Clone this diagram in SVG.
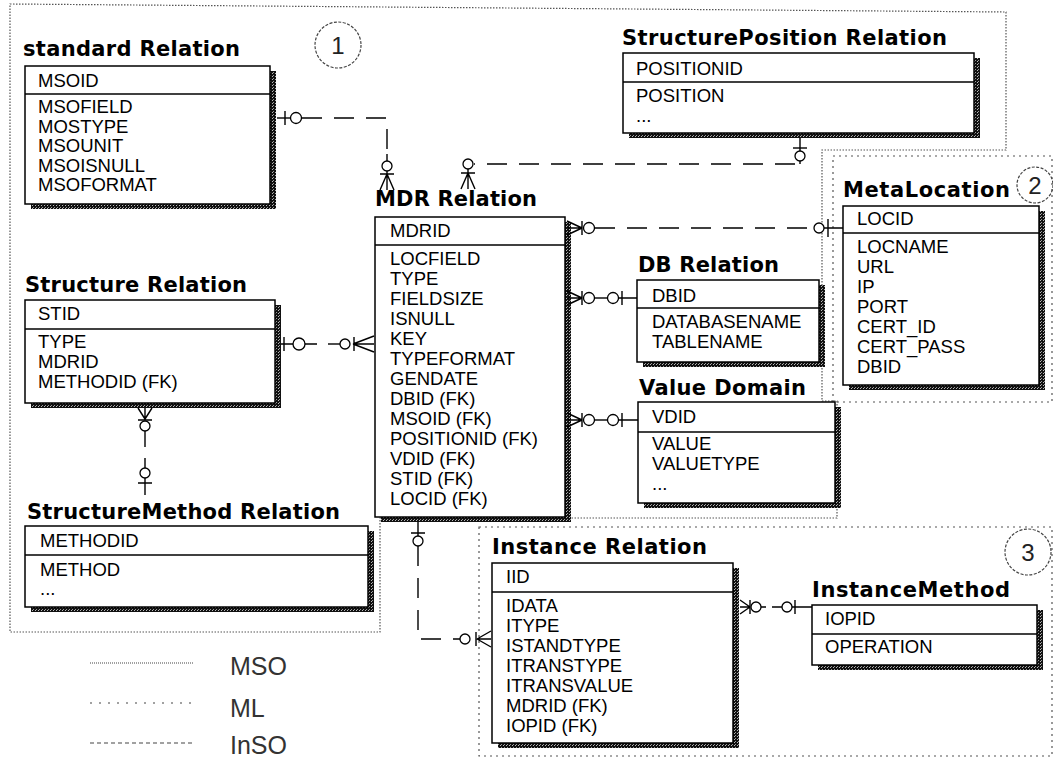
<svg xmlns="http://www.w3.org/2000/svg" width="1053" height="761" viewBox="0 0 1053 761">
<style>
.t{font-family:"DejaVu Sans",sans-serif;font-weight:bold;font-size:21px;fill:#000}
.a{font-family:"Liberation Sans",Arial,sans-serif;font-size:18.5px;fill:#000}
.box{fill:#fff;stroke:#000;stroke-width:1.5}
.sh{fill:url(#dith)}
.sep{stroke:#000;stroke-width:1.5}
.rel{fill:none;stroke:#000;stroke-width:1.4}
.dash{stroke-dasharray:20 12}
.sym{fill:#fff;stroke:#000;stroke-width:1.3}
.reg{fill:none;stroke:#555;stroke-width:1.2;stroke-dasharray:1.5 1.5}
.reg2{fill:none;stroke:#555;stroke-width:1.2;stroke-dasharray:2 4}
.num{fill:none;stroke:#444;stroke-width:1.2;stroke-dasharray:3 1.5}
.nt{font-family:"Liberation Sans",Arial,sans-serif;font-size:24px;fill:#222;text-anchor:middle}
.lg{font-family:"Liberation Sans",Arial,sans-serif;font-size:25px;fill:#333}
</style>
<defs>
<pattern id="dith" width="3" height="3" patternUnits="userSpaceOnUse"><rect width="3" height="3" fill="#111"/><rect x="0" y="0" width="1" height="1" fill="#999"/><rect x="2" y="1" width="1" height="1" fill="#bbb"/></pattern>
</defs>
<rect width="1053" height="761" fill="#fff"/>

<g id="regions">
<polygon class="reg" points="10,4 1006,12 1006,150 822,150 822,401 837,401 837,518 380,518 380,632 10,632"/>
<rect class="reg2" x="833" y="156" width="219" height="246"/>
<rect class="reg2" x="479" y="527" width="573" height="229"/>
<circle class="num" cx="338" cy="45" r="23"/><text class="nt" x="338" y="54">1</text>
<circle class="num" cx="1035" cy="185" r="18"/><text class="nt" x="1035" y="194">2</text>
<circle class="num" cx="1028" cy="552" r="23"/><text class="nt" x="1028" y="561">3</text>
</g>

<g id="standard-relation">
<text class="t" x="23" y="56" textLength="217">standard Relation</text>
<rect class="sh" x="31" y="71" width="245" height="138"/>
<rect class="box" x="25" y="66" width="245" height="138"/>
<line class="sep" x1="25" y1="94" x2="270" y2="94"/>
<text class="a" x="38" y="87">MSOID</text>
<text class="a" x="38" y="113">MSOFIELD</text>
<text class="a" x="38" y="132.5">MOSTYPE</text>
<text class="a" x="38" y="152">MSOUNIT</text>
<text class="a" x="38" y="171.5">MSOISNULL</text>
<text class="a" x="38" y="191">MSOFORMAT</text>
</g>

<g id="structureposition-relation">
<text class="t" x="622" y="45" textLength="325">StructurePosition Relation</text>
<rect class="sh" x="629" y="58" width="351" height="80"/>
<rect class="box" x="623" y="53" width="351" height="80"/>
<line class="sep" x1="623" y1="82" x2="974" y2="82"/>
<text class="a" x="636" y="75">POSITIONID</text>
<text class="a" x="636" y="102">POSITION</text>
<text class="a" x="636" y="122">...</text>
</g>

<g id="mdr-relation">
<text class="t" x="375" y="206" textLength="162">MDR Relation</text>
<rect class="sh" x="381" y="222" width="190" height="300"/>
<rect class="box" x="375" y="217" width="190" height="300"/>
<line class="sep" x1="375" y1="245" x2="565" y2="245"/>
<text class="a" x="390" y="237">MDRID</text>
<text class="a" x="390" y="265">LOCFIELD</text>
<text class="a" x="390" y="285">TYPE</text>
<text class="a" x="390" y="305">FIELDSIZE</text>
<text class="a" x="390" y="325">ISNULL</text>
<text class="a" x="390" y="345">KEY</text>
<text class="a" x="390" y="365">TYPEFORMAT</text>
<text class="a" x="390" y="385">GENDATE</text>
<text class="a" x="390" y="405">DBID (FK)</text>
<text class="a" x="390" y="424.5">MSOID (FK)</text>
<text class="a" x="390" y="444.5">POSITIONID (FK)</text>
<text class="a" x="390" y="464.5">VDID (FK)</text>
<text class="a" x="390" y="484.5">STID (FK)</text>
<text class="a" x="390" y="504.5">LOCID (FK)</text>
</g>

<g id="db-relation">
<text class="t" x="638" y="272" textLength="141">DB Relation</text>
<rect class="sh" x="643" y="285" width="182" height="82"/>
<rect class="box" x="637" y="280" width="182" height="82"/>
<line class="sep" x1="637" y1="308" x2="819" y2="308"/>
<text class="a" x="652" y="302">DBID</text>
<text class="a" x="652" y="328">DATABASENAME</text>
<text class="a" x="652" y="348">TABLENAME</text>
</g>

<g id="value-domain">
<text class="t" x="639" y="395" textLength="167">Value Domain</text>
<rect class="sh" x="644" y="407" width="197" height="101"/>
<rect class="box" x="638" y="402" width="197" height="101"/>
<line class="sep" x1="638" y1="432" x2="835" y2="432"/>
<text class="a" x="652" y="423">VDID</text>
<text class="a" x="652" y="450">VALUE</text>
<text class="a" x="652" y="470">VALUETYPE</text>
<text class="a" x="652" y="490">...</text>
</g>

<g id="metalocation">
<text class="t" x="843" y="197" textLength="167">MetaLocation</text>
<rect class="sh" x="849" y="211" width="196" height="179"/>
<rect class="box" x="843" y="206" width="196" height="179"/>
<line class="sep" x1="843" y1="233" x2="1039" y2="233"/>
<text class="a" x="857" y="225">LOCID</text>
<text class="a" x="857" y="253">LOCNAME</text>
<text class="a" x="857" y="273">URL</text>
<text class="a" x="857" y="293">IP</text>
<text class="a" x="857" y="313">PORT</text>
<text class="a" x="857" y="333">CERT_ID</text>
<text class="a" x="857" y="353">CERT_PASS</text>
<text class="a" x="857" y="373">DBID</text>
</g>

<g id="structure-relation">
<text class="t" x="25" y="292" textLength="222">Structure Relation</text>
<rect class="sh" x="31" y="305" width="250" height="103"/>
<rect class="box" x="25" y="300" width="250" height="103"/>
<line class="sep" x1="25" y1="329" x2="275" y2="329"/>
<text class="a" x="38" y="320">STID</text>
<text class="a" x="38" y="348">TYPE</text>
<text class="a" x="38" y="368">MDRID</text>
<text class="a" x="38" y="388">METHODID (FK)</text>
</g>

<g id="structuremethod-relation">
<text class="t" x="27" y="519" textLength="313">StructureMethod Relation</text>
<rect class="sh" x="31" y="531" width="343" height="81"/>
<rect class="box" x="25" y="526" width="343" height="81"/>
<line class="sep" x1="25" y1="555" x2="368" y2="555"/>
<text class="a" x="40" y="547">METHODID</text>
<text class="a" x="40" y="576">METHOD</text>
<text class="a" x="40" y="595">...</text>
</g>

<g id="instance-relation">
<text class="t" x="492" y="554" textLength="215">Instance Relation</text>
<rect class="sh" x="498" y="568" width="241" height="180"/>
<rect class="box" x="492" y="563" width="241" height="180"/>
<line class="sep" x1="492" y1="592" x2="733" y2="592"/>
<text class="a" x="506" y="583">IID</text>
<text class="a" x="506" y="612">IDATA</text>
<text class="a" x="506" y="632">ITYPE</text>
<text class="a" x="506" y="652">ISTANDTYPE</text>
<text class="a" x="506" y="672">ITRANSTYPE</text>
<text class="a" x="506" y="692">ITRANSVALUE</text>
<text class="a" x="506" y="712">MDRID (FK)</text>
<text class="a" x="506" y="732">IOPID (FK)</text>
</g>

<g id="instancemethod">
<text class="t" x="812" y="597" textLength="198">InstanceMethod</text>
<rect class="sh" x="818" y="610" width="225" height="60"/>
<rect class="box" x="812" y="605" width="225" height="60"/>
<line class="sep" x1="812" y1="634" x2="1037" y2="634"/>
<text class="a" x="825" y="625">IOPID</text>
<text class="a" x="825" y="653">OPERATION</text>
</g>

<g id="connectors">
<!-- standard -> MDR -->
<path class="rel" d="M277,118 H302"/>
<path class="rel dash" d="M302,118 H387 V150"/>
<path class="rel" d="M387,154 V161"/>
<path class="rel" d="M285,111 V125"/>
<circle class="sym" cx="296" cy="118" r="5.5"/>
<circle class="sym" cx="387" cy="166" r="5"/>
<path class="rel" d="M380,174 H394 M387,171 V190 M387,174 L380,190 M387,174 L394,190"/>

<!-- StructurePosition -> MDR -->
<path class="rel" d="M800,138 V164"/>
<path class="rel" d="M793,148 H807"/>
<circle class="sym" cx="800" cy="156" r="5"/>
<path class="rel dash" d="M795,164 H474"/>
<circle class="sym" cx="468" cy="164" r="5"/>
<path class="rel" d="M461,173 H475 M468,169 V189 M468,173 L461,189 M468,173 L475,189"/>

<!-- MDR -> MetaLocation -->
<path class="rel" d="M582,228 L567,221 M582,228 H567 M582,228 L567,235 M582,221 V235"/>
<circle class="sym" cx="589" cy="228" r="5.5"/>
<path class="rel dash" d="M595,228 H813"/>
<circle class="sym" cx="819" cy="228" r="5"/>
<path class="rel" d="M824,228 H843 M828,219 V237"/>

<!-- MDR -> DB -->
<path class="rel" d="M582,298 L567,291 M582,298 H567 M582,298 L567,305 M582,291 V305"/>
<circle class="sym" cx="589" cy="298" r="5.5"/>
<path class="rel" d="M595,298 H607"/>
<circle class="sym" cx="613" cy="298" r="5.5"/>
<path class="rel" d="M619,298 H637 M622,291 V305"/>

<!-- MDR -> Value Domain -->
<path class="rel" d="M582,420 L567,413 M582,420 H567 M582,420 L567,427 M582,413 V427"/>
<circle class="sym" cx="589" cy="420" r="5.5"/>
<path class="rel" d="M595,420 H607"/>
<circle class="sym" cx="613" cy="420" r="5.5"/>
<path class="rel" d="M619,420 H638 M622,413 V427"/>

<!-- Structure -> MDR -->
<path class="rel" d="M281,344 H317 M284,337 V351"/>
<circle class="sym" cx="299" cy="344" r="6"/>
<path class="rel" d="M328,344 H340"/>
<circle class="sym" cx="345" cy="344" r="5"/>
<path class="rel" d="M353,344 L374,336 M353,344 H374 M353,344 L374,352 M354,337 V351"/>

<!-- Structure -> StructureMethod -->
<path class="rel" d="M145,419 L138,408 M145,419 V408 M145,419 L152,408 M138,420 H152"/>
<circle class="sym" cx="145" cy="426" r="5"/>
<path class="rel" d="M145,431 V447 M145,458 V468"/>
<circle class="sym" cx="145" cy="473" r="5"/>
<path class="rel" d="M145,478 V495 M138,483 H152"/>

<!-- MDR -> Instance -->
<path class="rel" d="M418,522 V536 M411,533 H425"/>
<circle class="sym" cx="418" cy="541" r="5"/>
<path class="rel dash" d="M418,546 V639 H460"/>
<circle class="sym" cx="465" cy="639" r="5"/>
<path class="rel" d="M476,632 V646 M477,639 L491,631 M477,639 H491 M477,639 L491,647"/>

<!-- Instance -> InstanceMethod -->
<path class="rel" d="M750,607 L740,600 M750,607 H740 M750,607 L740,614 M750,600 V614"/>
<circle class="sym" cx="756" cy="607" r="5"/>
<path class="rel" d="M761,607 H766 M772,607 H782"/>
<circle class="sym" cx="787" cy="607" r="5"/>
<path class="rel" d="M792,607 H812 M795,600 V614"/>
</g>

<g id="legend">
<path d="M90,663 H193" stroke="#444" stroke-width="1.2" stroke-dasharray="1 1"/>
<path d="M90,703 H193" stroke="#444" stroke-width="1.2" stroke-dasharray="2 7"/>
<path d="M90,743 H193" stroke="#444" stroke-width="1.2" stroke-dasharray="4 3"/>
<text class="lg" x="230" y="675">MSO</text>
<text class="lg" x="230" y="717">ML</text>
<text class="lg" x="230" y="754">InSO</text>
</g>
</svg>
